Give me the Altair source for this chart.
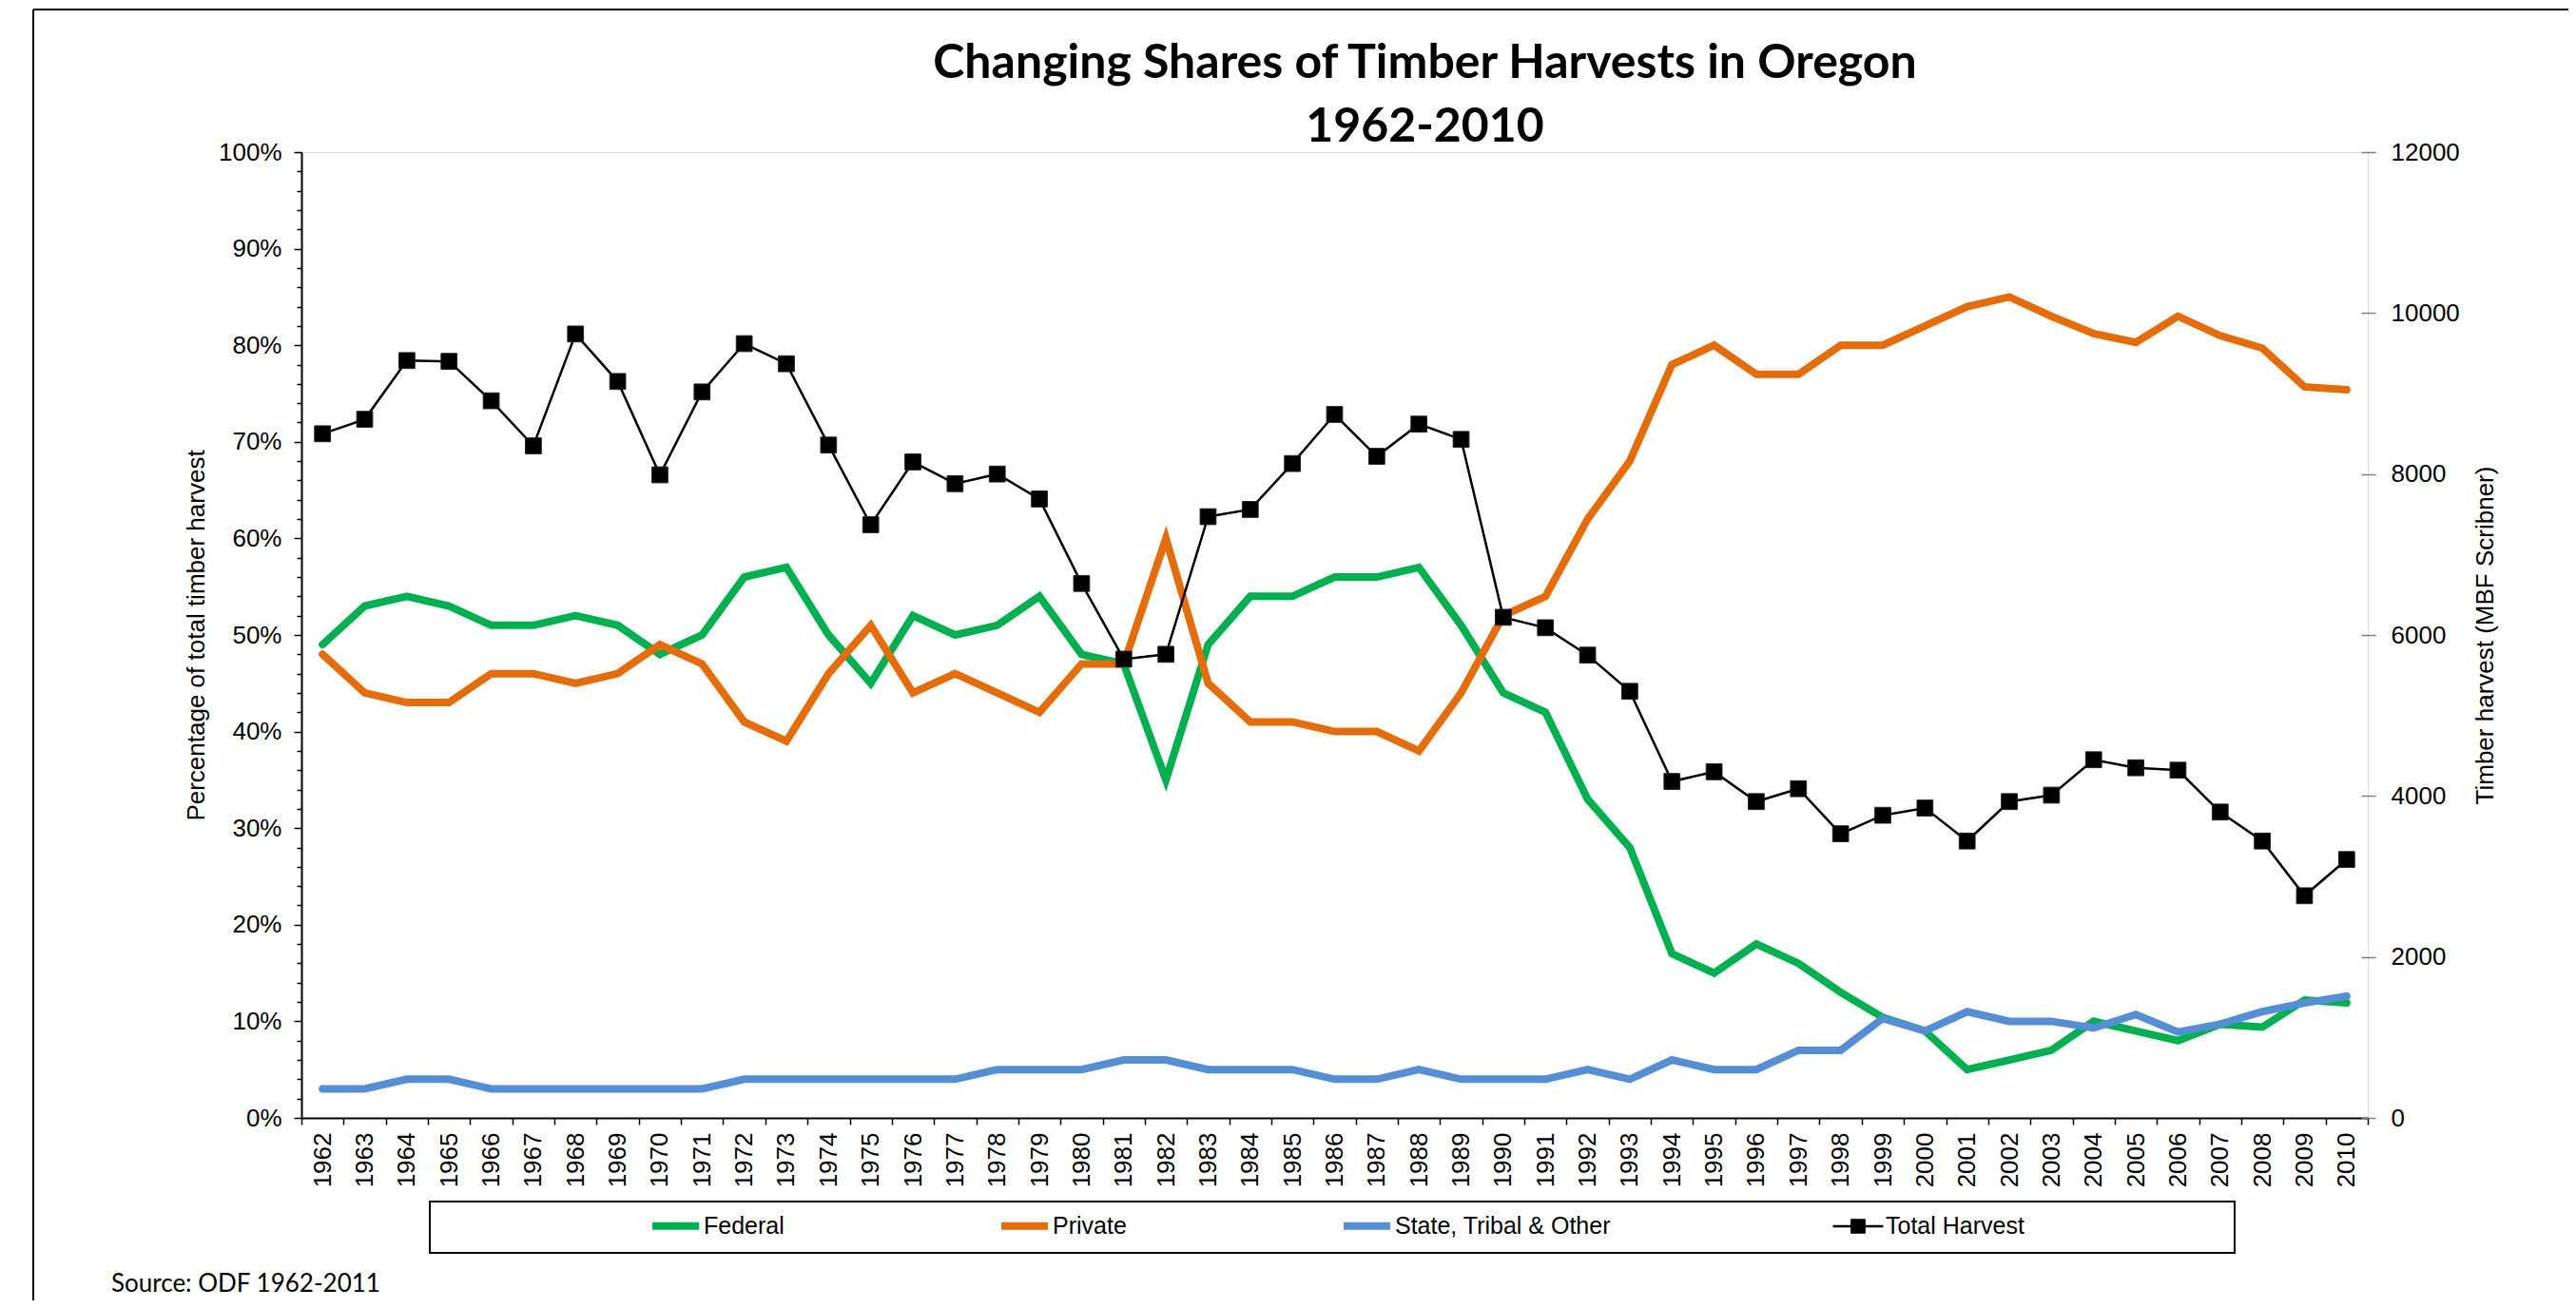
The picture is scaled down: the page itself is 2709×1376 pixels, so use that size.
import altair as alt
import pandas as pd

# ---------------- data ----------------
years = list(range(1962, 2011))
federal = [49, 53, 54, 53, 51, 51, 52, 51, 48, 50,
           56, 57, 50, 45, 52, 50, 51, 54, 48, 47,
           35, 49, 54, 54, 56, 56, 57, 51, 44, 42,
           33, 28, 17, 15, 18, 16, 13, 10.4, 9, 5,
           6, 7, 10, 9, 8, 9.7, 9.4, 12.2, 11.9]
private = [48, 44, 43, 43, 46, 46, 45, 46, 49, 47,
           41, 39, 46, 51, 44, 46, 44, 42, 47, 47,
           60, 45, 41, 41, 40, 40, 38, 44, 52, 54,
           62, 68, 78, 80, 77, 77, 80, 80, 82, 84,
           85, 83, 81.2, 80.3, 83, 81, 79.7, 75.7, 75.4]
state_other = [3, 3, 4, 4, 3, 3, 3, 3, 3, 3,
               4, 4, 4, 4, 4, 4, 5, 5, 5, 6,
               6, 5, 5, 5, 4, 4, 5, 4, 4, 4,
               5, 4, 6, 5, 5, 7, 7, 10.3, 9, 11,
               10, 10, 9.3, 10.7, 8.9, 9.7, 11, 11.9, 12.6]
total_harvest = [8500, 8680, 9410, 9400, 8910, 8350, 9740, 9150, 7990, 9020,
                 9620, 9370, 8360, 7370, 8150, 7880, 8000, 7690, 6640, 5700,
                 5760, 7470, 7560, 8130, 8740, 8220, 8620, 8430, 6220, 6090,
                 5750, 5300, 4180, 4300, 3930, 4090, 3530, 3760, 3850, 3440,
                 3930, 4010, 4450, 4350, 4320, 3800, 3440, 2760, 3210]

share_names = ["Federal", "Private", "State, Tribal & Other"]
share_colors = ["#00B050", "#E46C0A", "#558ED5"]
total_name = "Total Harvest"
pct_ticks = list(range(0, 101, 2))
harvest_ticks = list(range(0, 12001, 2000))
title_lines = ["Changing Shares of Timber Harvests in Oregon", "1962-2010"]
source_note = "Source: ODF 1962-2011"
left_title = "Percentage of total timber harvest"
right_title = "Timber harvest (MBF Scribner)"

# ---------------- tables ----------------
rows = []
for name, vals in zip(share_names, [federal, private, state_other]):
    for yr, v in zip(years, vals):
        rows.append({"year": yr, "series": name, "pct": v})
shares = pd.DataFrame(rows)
harvest = pd.DataFrame({"year": years, "series": total_name, "harvest": total_harvest})
note = pd.DataFrame({"label": [source_note]})

W, H = 2173, 1016
AX_FONT = "Liberation Sans"
LEG_Y = 1101

# legend key for total harvest: a line with a solid square drawn from strokes only
KEY_PATH = ("M-1,0H1"
            "M-0.25,-0.25H0.25V0.25H-0.25Z"
            "M-0.25,-0.17H0.25M-0.25,-0.085H0.25M-0.25,0.085H0.25M-0.25,0.17H0.25")

color = alt.Color(
    "series:N",
    scale=alt.Scale(domain=share_names, range=share_colors),
    legend=alt.Legend(
        title=None, orient="none", direction="horizontal",
        legendX=365, legendY=LEG_Y, padding=0,
        labelFont=AX_FONT, labelFontSize=25, labelColor="black", labelLimit=500,
        labelOffset=1, columnPadding=212, symbolSize=2401, symbolType="stroke",
        symbolStrokeWidth=8,
    ),
)

x = alt.X(
    "year:O",
    scale=alt.Scale(type="band", paddingInner=0, paddingOuter=0),
    axis=alt.Axis(
        title=None, labelAngle=270, labelAlign="right", labelBaseline="middle",
        labelFont=AX_FONT, labelFontSize=26, labelColor="black", labelPadding=8,
        labelOverlap=False, tickBand="extent", tickSize=7, tickColor="black",
        tickWidth=1.5, domainColor="black", domainWidth=2, grid=False,
    ),
)

shares_lines = alt.Chart(shares).mark_line(strokeWidth=8, strokeCap="round").encode(
    x=x,
    y=alt.Y(
        "pct:Q",
        scale=alt.Scale(domain=[0, 100], nice=False),
        axis=alt.Axis(
            orient="left", values=pct_ticks,
            labelExpr="datum.value % 10 === 0 ? datum.value + '%' : ''",
            tickSize={"condition": {"test": "datum.value % 10 === 0", "value": 8}, "value": 5},
            tickColor="black", tickWidth=1.5,
            labelFont=AX_FONT, labelFontSize=26, labelColor="black", labelPadding=13,
            labelOverlap=False, domainColor="black", domainWidth=2, grid=False,
            title=left_title, titleFont=AX_FONT, titleFontSize=26,
            titleFontWeight="normal", titleColor="black", titlePadding=10,
        ),
    ),
    color=color,
    order=alt.Order("year:O"),
)

harvest_y = alt.Y(
    "harvest:Q",
    scale=alt.Scale(domain=[0, 12000], nice=False),
    axis=alt.Axis(
        orient="right", values=harvest_ticks, format="d", offset=-7,
        tickSize=15, tickColor="#7f7f7f", tickWidth=1.5, domain=False,
        labelFont=AX_FONT, labelFontSize=26, labelColor="black", labelPadding=16,
        labelOverlap=False, grid=False,
        title=right_title, titleAngle=270, titleFont=AX_FONT, titleFontSize=26,
        titleFontWeight="normal", titleColor="black", titlePadding=40,
    ),
)

harvest_line = alt.Chart(harvest).mark_line(strokeWidth=2.5, color="black").encode(
    x=x, y=harvest_y
)
harvest_pts = alt.Chart(harvest).mark_point(
    shape="square", filled=True, size=280, opacity=1, color="#000000",
    stroke="#222222", strokeWidth=1,
).encode(x=x, y=harvest_y)
# invisible layer that only supplies the "Total Harvest" legend entry
harvest_key = alt.Chart(harvest).mark_point(
    filled=False, color="black", strokeWidth=2.5, opacity=0,
).encode(
    x=x, y=harvest_y,
    shape=alt.Shape(
        "series:N",
        scale=alt.Scale(domain=[total_name], range=[KEY_PATH]),
        legend=alt.Legend(
            title=None, orient="none", direction="horizontal",
            legendX=1609, legendY=LEG_Y + 1, padding=0,
            labelFont=AX_FONT, labelFontSize=25, labelColor="black", labelLimit=500,
            labelOffset=1, symbolSize=2800, symbolOpacity=1,
            symbolStrokeColor="black", symbolStrokeWidth=2.5,
        ),
    ),
)
harvest_layer = alt.layer(harvest_line, harvest_pts, harvest_key)

legend_box = alt.Chart(note).mark_rect(fill="white", stroke="black", strokeWidth=2).encode(
    x=alt.value(135), x2=alt.value(2033), y=alt.value(1104), y2=alt.value(1158)
)
frame_top = alt.Chart(note).mark_rule(color="black", strokeWidth=2).encode(
    x=alt.value(-282), x2=alt.value(2400), y=alt.value(-150)
)
frame_left = alt.Chart(note).mark_rule(color="black", strokeWidth=2).encode(
    x=alt.value(-282), y=alt.value(-150), y2=alt.value(1220)
)
source = alt.Chart(note).mark_text(
    font="Lato", fontSize=26, align="left", baseline="alphabetic", color="black"
).encode(x=alt.value(-200), y=alt.value(1199), text="label:N")

chart = alt.layer(
    legend_box, frame_top, frame_left, source, shares_lines, harvest_layer
).resolve_scale(y="independent").properties(
    width=W, height=H,
    autosize=alt.AutoSizeParams(type="none"),
    padding={"left": 309, "top": 152, "right": 211, "bottom": 192},
    title=alt.TitleParams(
        text=title_lines, font="Lato", fontWeight="bold", fontSize=50,
        color="black", anchor="middle", frame="group", dx=95, dy=190, offset=0,
        baseline="alphabetic", lineHeight=67,
    ),
).configure_view(
    fill="#FCE9DA", stroke="#808080", strokeWidth=2
).configure(background="white")

chart.save("out.html", embed_options={"renderer": "svg", "actions": False})
